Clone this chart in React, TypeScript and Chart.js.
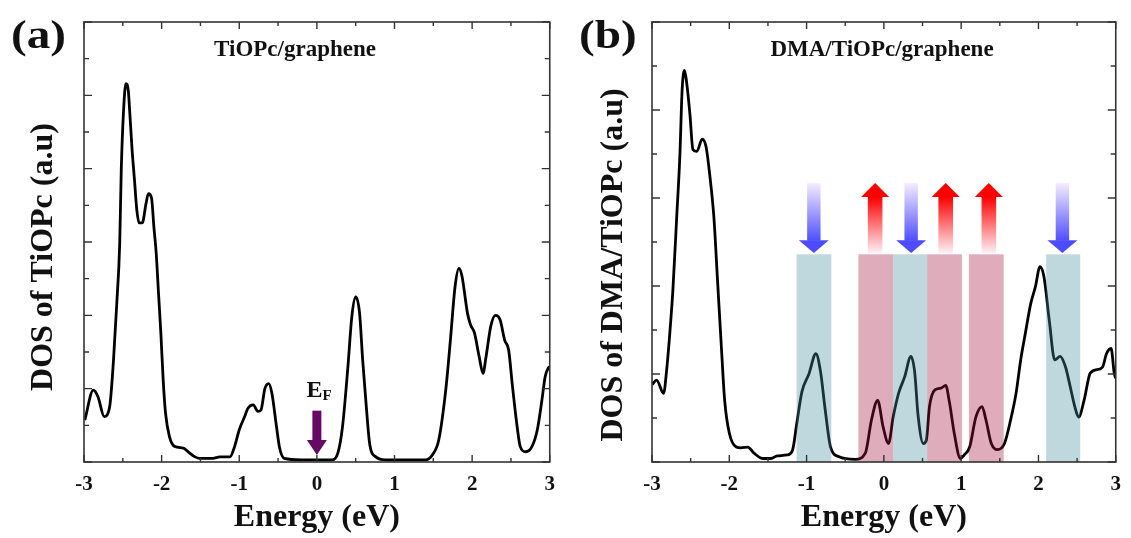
import React, { useEffect, useRef } from "react";
import { Chart, registerables } from "chart.js";

Chart.register(...registerables);

const FONT = "'Liberation Serif', 'Times New Roman', Times, serif";

// ---------- Panel (a): TiOPc/graphene ----------
const energyA = [-2.99, -2.88, -2.82, -2.74, -2.67, -2.62, -2.58, -2.54, -2.52, -2.49, -2.46, -2.43, -2.41, -2.38, -2.35, -2.32, -2.29, -2.25, -2.2, -2.17, -2.13, -2.1, -2.07, -2.04, -2.01, -1.98, -1.95, -1.9, -1.83, -1.72, -1.66, -1.57, -1.51, -1.34, -1.25, -1.12, -1.06, -1.0, -0.93, -0.89, -0.82, -0.76, -0.72, -0.67, -0.62, -0.58, -0.52, -0.48, -0.42, -0.2, 0.0, 0.2, 0.27, 0.33, 0.4, 0.45, 0.5, 0.55, 0.59, 0.64, 0.68, 0.76, 0.88, 1.4, 1.49, 1.57, 1.66, 1.72, 1.78, 1.83, 1.87, 1.94, 1.98, 2.03, 2.09, 2.14, 2.18, 2.24, 2.3, 2.36, 2.42, 2.47, 2.52, 2.58, 2.62, 2.69, 2.77, 2.84, 2.9, 2.94, 2.98, 3.0];
const dosA = [0.57, 0.98, 0.89, 0.62, 0.75, 1.39, 2.12, 2.98, 3.98, 4.8, 5.16, 5.07, 4.76, 4.25, 3.85, 3.44, 3.26, 3.26, 3.53, 3.66, 3.6, 3.21, 2.85, 2.3, 1.76, 1.12, 0.67, 0.35, 0.21, 0.19, 0.14, 0.07, 0.05, 0.05, 0.07, 0.07, 0.21, 0.44, 0.62, 0.73, 0.78, 0.69, 0.71, 1.0, 1.07, 0.94, 0.48, 0.19, 0.05, 0.03, 0.03, 0.03, 0.12, 0.48, 1.3, 1.98, 2.25, 2.03, 1.39, 0.71, 0.25, 0.07, 0.03, 0.03, 0.1, 0.3, 0.98, 1.66, 2.39, 2.64, 2.53, 2.03, 1.87, 1.76, 1.44, 1.21, 1.44, 1.85, 2.0, 1.94, 1.66, 1.53, 1.03, 0.48, 0.21, 0.14, 0.21, 0.44, 0.85, 1.16, 1.28, 1.3];

// ---------- Panel (b): DMA/TiOPc/graphene ----------
const energyB = [-3.0, -2.94, -2.85, -2.81, -2.77, -2.73, -2.68, -2.64, -2.61, -2.58, -2.55, -2.51, -2.47, -2.42, -2.35, -2.3, -2.25, -2.2, -2.15, -2.1, -2.06, -2.0, -1.91, -1.85, -1.76, -1.68, -1.57, -1.46, -1.38, -1.25, -1.18, -1.13, -1.06, -0.97, -0.88, -0.82, -0.76, -0.69, -0.58, -0.37, -0.24, -0.16, -0.08, -0.01, 0.06, 0.12, 0.19, 0.27, 0.35, 0.4, 0.44, 0.51, 0.55, 0.59, 0.66, 0.74, 0.8, 0.85, 0.91, 0.99, 1.04, 1.11, 1.19, 1.27, 1.32, 1.39, 1.47, 1.56, 1.64, 1.71, 1.77, 1.83, 1.9, 1.96, 2.02, 2.07, 2.14, 2.21, 2.28, 2.35, 2.41, 2.47, 2.52, 2.59, 2.67, 2.76, 2.83, 2.88, 2.94, 2.98, 3.0];
const dosB = [0.88, 0.93, 0.78, 1.05, 1.46, 1.95, 2.79, 3.47, 4.23, 4.45, 4.3, 3.96, 3.55, 3.53, 3.67, 3.58, 3.24, 2.79, 2.03, 1.27, 0.7, 0.33, 0.17, 0.16, 0.17, 0.1, 0.04, 0.04, 0.07, 0.08, 0.14, 0.42, 0.8, 1.0, 1.23, 1.03, 0.6, 0.17, 0.06, 0.03, 0.1, 0.48, 0.7, 0.4, 0.21, 0.51, 0.78, 0.97, 1.2, 1.01, 0.55, 0.21, 0.25, 0.63, 0.82, 0.84, 0.87, 0.67, 0.33, 0.04, 0.08, 0.17, 0.51, 0.63, 0.48, 0.21, 0.14, 0.21, 0.48, 0.78, 1.16, 1.46, 1.8, 1.99, 2.22, 2.11, 1.61, 1.16, 1.2, 1.08, 0.86, 0.63, 0.51, 0.7, 1.01, 1.05, 1.08, 1.23, 1.29, 1.01, 0.95];

// shaded spin bands in panel (b)
const bandStarts = [-1.13, -0.33, 0.12, 0.56, 1.1, 2.1];
const bandEnds = [-0.68, 0.12, 0.56, 1.01, 1.55, 2.54];
const bandKinds = ["down", "up", "down", "up", "up", "down"];
const bandTop = 2.36;

// spin arrows in panel (b)
const downArrowX = [-0.906, 0.353, 2.31];
const upArrowX = [-0.113, 0.8, 1.358];
const arrowHigh = 3.17;
const arrowLow = 2.375;
const downHeadBase = 2.52;
const upHeadBase = 3.01;

// Fermi level arrow in panel (a)
const fermiX = 0;
const fermiTop = 0.7;
const fermiHeadBase = 0.3;
const fermiTip = 0.095;
const fermiLabelY = 0.886;

// ticks
const xTickLabels = [-3, -2, -1, 0, 1, 2, 3];
const xTickMarks = [-3, -2.5, -2, -1.5, -1, -0.5, 0, 0.5, 1, 1.5, 2, 2.5, 3];
const yTickMarksA = [0, 0.5, 1, 1.5, 2, 2.5, 3, 3.5, 4, 4.5, 5, 5.5, 6];
const yTickMarksB = [0, 0.5, 1, 1.5, 2, 2.5, 3, 3.5, 4, 4.5, 5];

type PanelSpec = {
  key: string;
  letter: string;
  title: string;
  titleCenter: number;
  yLabel: string;
  yLabelX: number;
  yLabelY: number;
  yMax: number;
  yTicks: number[];
  energy: number[];
  dos: number[];
  padRight: number;
  spin: boolean;
  fermi: boolean;
};

const panelA: PanelSpec = {
  key: "a",
  letter: "(a)",
  title: "TiOPc/graphene",
  titleCenter: 295,
  yLabel: "DOS of TiOPc (a.u)",
  yLabelX: 44,
  yLabelY: 257,
  yMax: 6,
  yTicks: yTickMarksA,
  energy: energyA,
  dos: dosA,
  padRight: 14,
  spin: false,
  fermi: true,
};

const panelB: PanelSpec = {
  key: "b",
  letter: "(b)",
  title: "DMA/TiOPc/graphene",
  titleCenter: 314,
  yLabel: "DOS of DMA/TiOPc (a.u)",
  yLabelX: 46,
  yLabelY: 265,
  yMax: 5,
  yTicks: yTickMarksB,
  energy: energyB,
  dos: dosB,
  padRight: 12,
  spin: true,
  fermi: false,
};

const BLUE_BAND = "rgba(69,143,161,0.35)";
const PINK_BAND = "rgba(161,18,58,0.35)";

function decorPlugin(p: PanelSpec) {
  return {
    id: "decor_" + p.key,
    afterDatasetsDraw(chart: any) {
      const { ctx, scales } = chart;
      const x = scales.x;
      const y = scales.y;
      ctx.save();
      if (p.spin) {
        const yB = y.getPixelForValue(0);
        const yT = y.getPixelForValue(bandTop);
        for (let i = 0; i < bandStarts.length; i++) {
          const x0 = x.getPixelForValue(bandStarts[i]);
          const x1 = x.getPixelForValue(bandEnds[i]);
          ctx.fillStyle = bandKinds[i] === "down" ? BLUE_BAND : PINK_BAND;
          ctx.fillRect(x0, yT, x1 - x0, yB - yT);
        }
        const yHigh = y.getPixelForValue(arrowHigh);
        const yLow = y.getPixelForValue(arrowLow);
        // down arrows (blue)
        const yDB = y.getPixelForValue(downHeadBase);
        for (const v of downArrowX) {
          const cx = x.getPixelForValue(v);
          const g = ctx.createLinearGradient(0, yHigh, 0, yDB);
          g.addColorStop(0, "rgba(246,236,255,1)");
          g.addColorStop(1, "rgba(80,80,255,1)");
          ctx.fillStyle = g;
          ctx.fillRect(cx - 6.7, yHigh, 13.4, yDB - yHigh + 0.5);
          ctx.fillStyle = "#4d4dff";
          ctx.beginPath();
          ctx.moveTo(cx - 15, yDB);
          ctx.lineTo(cx + 15, yDB);
          ctx.lineTo(cx, yLow);
          ctx.closePath();
          ctx.fill();
        }
        // up arrows (red)
        const yUB = y.getPixelForValue(upHeadBase);
        for (const v of upArrowX) {
          const cx = x.getPixelForValue(v);
          const g = ctx.createLinearGradient(0, yUB, 0, yLow);
          g.addColorStop(0, "rgba(255,0,0,1)");
          g.addColorStop(1, "rgba(255,240,245,1)");
          ctx.fillStyle = g;
          ctx.fillRect(cx - 7.3, yUB - 0.5, 14.6, yLow - yUB + 0.5);
          ctx.fillStyle = "#ff0000";
          ctx.beginPath();
          ctx.moveTo(cx - 14, yUB);
          ctx.lineTo(cx + 14, yUB);
          ctx.lineTo(cx, yHigh);
          ctx.closePath();
          ctx.fill();
        }
      }
      if (p.fermi) {
        const cx = x.getPixelForValue(fermiX);
        const yT = y.getPixelForValue(fermiTop);
        const yH = y.getPixelForValue(fermiHeadBase);
        const yP = y.getPixelForValue(fermiTip);
        ctx.fillStyle = "#660a66";
        ctx.fillRect(cx - 4.5, yT, 9, yH - yT + 0.5);
        ctx.beginPath();
        ctx.moveTo(cx - 10, yH);
        ctx.lineTo(cx + 10, yH);
        ctx.lineTo(cx, yP);
        ctx.closePath();
        ctx.fill();
        const yL = y.getPixelForValue(fermiLabelY);
        ctx.fillStyle = "#111";
        ctx.textBaseline = "alphabetic";
        ctx.textAlign = "left";
        ctx.font = `bold 24px ${FONT}`;
        ctx.fillText("E", cx - 10.5, yL);
        ctx.font = `bold 15px ${FONT}`;
        ctx.fillText("F", cx + 5.5, yL + 3);
      }
      ctx.restore();
    },
    afterDraw(chart: any) {
      const { ctx, chartArea, scales } = chart;
      const { left, right, top, bottom } = chartArea;
      const x = scales.x;
      const y = scales.y;
      ctx.save();
      ctx.strokeStyle = "#333";
      ctx.lineWidth = 1.6;
      ctx.strokeRect(left, top, right - left, bottom - top);
      ctx.lineWidth = 1.4;
      ctx.beginPath();
      for (const v of xTickMarks) {
        const px = x.getPixelForValue(v);
        const len = Number.isInteger(v) ? 7 : 4;
        ctx.moveTo(px, bottom);
        ctx.lineTo(px, bottom - len);
        ctx.moveTo(px, top);
        ctx.lineTo(px, top + len);
      }
      for (const v of p.yTicks) {
        const py = y.getPixelForValue(v);
        const len = Number.isInteger(v) ? 8 : 5;
        ctx.moveTo(left, py);
        ctx.lineTo(left + len, py);
        ctx.moveTo(right, py);
        ctx.lineTo(right - len, py);
      }
      ctx.stroke();

      ctx.fillStyle = "#111";
      // panel letter (slightly wide, as in the original)
      ctx.save();
      ctx.translate(11, 48);
      ctx.scale(1.18, 1);
      ctx.textAlign = "left";
      ctx.textBaseline = "alphabetic";
      ctx.font = `bold 40px ${FONT}`;
      ctx.fillText(p.letter, 0, 0);
      ctx.restore();
      // panel title
      ctx.textAlign = "center";
      ctx.textBaseline = "middle";
      ctx.font = `bold 23px ${FONT}`;
      ctx.fillText(p.title, p.titleCenter, 50);
      // y axis label
      ctx.save();
      ctx.translate(p.yLabelX, p.yLabelY);
      ctx.rotate(-Math.PI / 2);
      ctx.font = `bold 32px ${FONT}`;
      ctx.textAlign = "center";
      ctx.textBaseline = "middle";
      ctx.fillText(p.yLabel, 0, 0);
      ctx.restore();
      ctx.restore();
    },
  };
}

function configFor(p: PanelSpec): any {
  return {
    type: "line",
    data: {
      datasets: [
        {
          data: p.energy.map((e, i) => ({ x: e, y: p.dos[i] })),
          borderColor: "#000",
          borderWidth: 2.8,
          pointRadius: 0,
          cubicInterpolationMode: "monotone",
          fill: false,
        },
      ],
    },
    options: {
      responsive: false,
      animation: false,
      devicePixelRatio: 1,
      layout: { padding: { top: 22, right: p.padRight, left: 0, bottom: 0 } },
      plugins: { legend: { display: false }, tooltip: { enabled: false }, title: { display: false } },
      scales: {
        x: {
          type: "linear",
          min: -3,
          max: 3,
          grid: { display: false, drawTicks: false },
          border: { display: false },
          afterBuildTicks: (s: any) => {
            s.ticks = xTickLabels.map((v) => ({ value: v }));
          },
          ticks: {
            autoSkip: false,
            maxRotation: 0,
            padding: 10,
            color: "#111",
            font: { family: FONT, size: 21, weight: "bold" },
            callback: (v: any) => String(v),
          },
          title: {
            display: true,
            text: "Energy (eV)",
            color: "#111",
            font: { family: FONT, size: 32, weight: "bold" },
            padding: { top: 0, bottom: 1 },
          },
          afterFit: (s: any) => {
            s.height = 76;
          },
        },
        y: {
          type: "linear",
          min: 0,
          max: p.yMax,
          grid: { display: false, drawTicks: false },
          border: { display: false },
          ticks: { display: false },
          afterFit: (s: any) => {
            s.width = 84;
          },
        },
      },
    },
    plugins: [decorPlugin(p)],
  };
}

export default function App() {
  const refA = useRef<HTMLCanvasElement>(null);
  const refB = useRef<HTMLCanvasElement>(null);
  useEffect(() => {
    const a = new Chart(refA.current as HTMLCanvasElement, configFor(panelA));
    const b = new Chart(refB.current as HTMLCanvasElement, configFor(panelB));
    return () => {
      a.destroy();
      b.destroy();
    };
  }, []);
  return (
    <div style={{ position: "absolute", left: 0, top: 0, width: 1131, height: 538, background: "#fff" }}>
      <canvas ref={refA} width={565} height={538} style={{ position: "absolute", left: 0, top: 0, width: 565, height: 538 }} />
      <canvas ref={refB} width={563} height={538} style={{ position: "absolute", left: 568, top: 0, width: 563, height: 538 }} />
    </div>
  );
}
